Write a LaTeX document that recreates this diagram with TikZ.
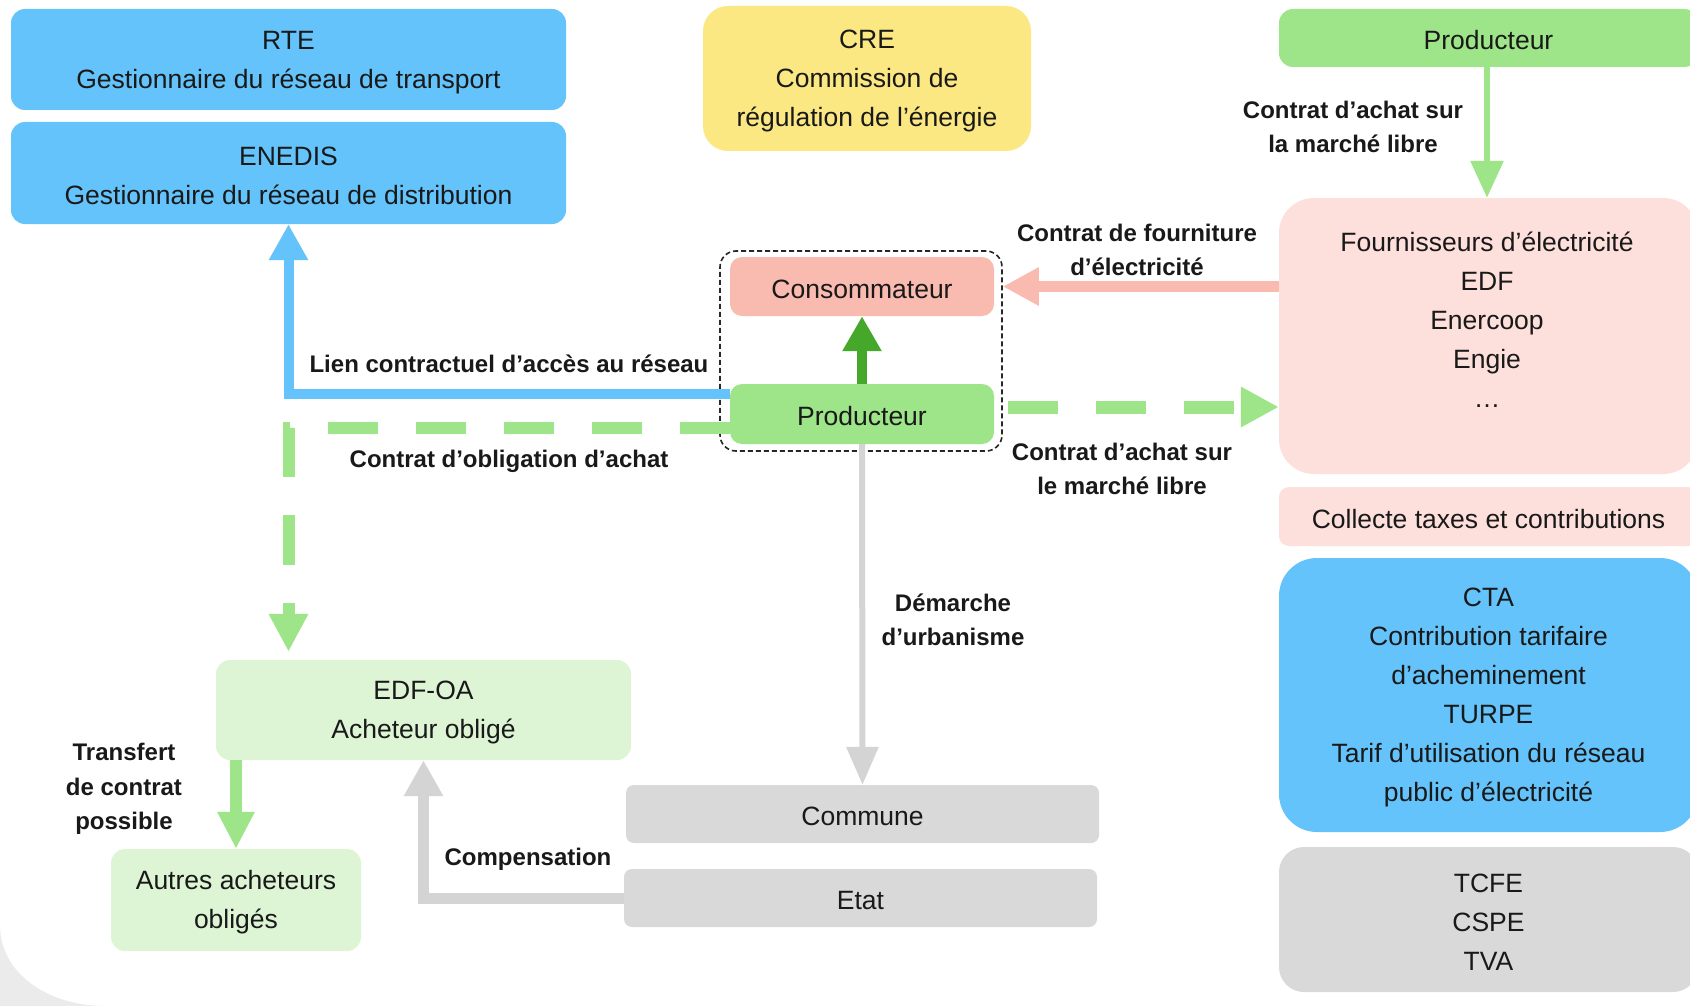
\documentclass[tikz,border=0pt]{standalone}
\usepackage{fontspec}
\setmainfont{Liberation Sans}
\usetikzlibrary{arrows.meta}
\definecolor{bluebox}{HTML}{63C3FA}
\definecolor{yellowbox}{HTML}{FCE883}
\definecolor{greenbox}{HTML}{9DE588}
\definecolor{pinkbox}{HTML}{F9BAB0}
\definecolor{lightpink}{HTML}{FDDFDB}
\definecolor{lightgreen}{HTML}{DDF5D5}
\definecolor{greybox}{HTML}{D9D9D9}
\definecolor{darkgreen}{HTML}{46A82A}
\definecolor{arrowgrey}{HTML}{D4D4D4}
\definecolor{cornergrey}{HTML}{EBEBEB}
\newcommand\topstrut{\rule{0pt}{0.905em}}
\begin{document}
\begin{tikzpicture}[x=1pt,y=-1pt,
  box/.style={rectangle, rounded corners=#1, inner sep=0pt, align=center,
    font=\fontsize{26.5}{39}\selectfont, text=black!90},
  box/.default=14pt,
  lab/.style={align=center, inner sep=0pt, text=black!90,
    font=\bfseries\fontsize{24}{34.5}\selectfont},
  dashgreen/.style={draw=greenbox, dash pattern=on 50pt off 38pt},
]
\useasboundingbox (0,0) rectangle (1690,1006);
\clip (0,0) rectangle (1690,1006);
\fill[white] (0,0) rectangle (1690,1006);
\fill[cornergrey] (0,925) .. controls (0,975) and (50,1006) .. (105,1006) -- (0,1006) -- cycle;

% boxes
\node[box, fill=bluebox, minimum width=555pt, minimum height=101pt] (rte) at (288.5,59.5)
  {\topstrut RTE\\Gestionnaire du réseau de transport};
\node[box, fill=bluebox, minimum width=555pt, minimum height=102pt] (enedis) at (288.5,173)
  {\topstrut ENEDIS\\Gestionnaire du réseau de distribution};
\node[box=25pt, fill=yellowbox, minimum width=328pt, minimum height=145pt] (cre) at (867,78.5)
  {\topstrut CRE\\Commission de\\régulation de l’énergie};
\node[box, fill=greenbox, minimum width=419pt, minimum height=58pt] (prodtop) at (1488.5,38)
  {\topstrut Producteur};
\node[box=35pt, fill=lightpink, minimum width=419pt, minimum height=276pt] (fourn) at (1488.5,336) {};
\node[box] (fourntxt) at (1487,320)
  {Fournisseurs d’électricité\\EDF\\Enercoop\\Engie\\…};
\node[box=10pt, fill=lightpink, minimum width=419pt, minimum height=59pt] (collecte) at (1488.5,516.5)
  {\topstrut Collecte taxes et contributions};
\node[box=38pt, fill=bluebox, minimum width=419pt, minimum height=274pt] (cta) at (1488.5,695)
  {\topstrut CTA\\Contribution tarifaire\\d’acheminement\\TURPE\\Tarif d’utilisation du réseau\\public d’électricité};
\node[box=25pt, fill=greybox, minimum width=419pt, minimum height=145pt] (tcfe) at (1488.5,919.5)
  {\topstrut TCFE\\CSPE\\TVA};
\node[box=12pt, fill=pinkbox, minimum width=264pt, minimum height=59pt] (cons) at (862,286.5)
  {\topstrut Consommateur};
\node[box=12pt, fill=greenbox, minimum width=264pt, minimum height=60pt] (prodc) at (862,414)
  {\topstrut Producteur};
\node[draw=black!85, line width=1.6pt, dash pattern=on 5pt off 3pt,
  rounded corners=16pt, minimum width=282pt, minimum height=200pt, inner sep=0pt] (group) at (861,351) {};
\node[box, fill=lightgreen, minimum width=415pt, minimum height=100pt] (edfoa) at (423.5,710)
  {\topstrut EDF-OA\\Acheteur obligé};
\node[box, fill=lightgreen, minimum width=250pt, minimum height=102pt] (autres) at (236,900)
  {\topstrut Autres acheteurs\\obligés};
\node[box=8pt, fill=greybox, minimum width=473pt, minimum height=58pt] (commune) at (862.5,814)
  {\topstrut Commune};
\node[box=8pt, fill=greybox, minimum width=473pt, minimum height=58pt] (etat) at (860.5,898)
  {\topstrut Etat};

% connectors
\coordinate (bl) at ([yshift=20pt]prodc.west);
\draw[bluebox, line width=10pt, -{Triangle[length=36pt,width=37pt]}]
  (bl) -| (enedis.south);
\coordinate (gl) at ([yshift=-14pt]prodc.west);
\draw[dashgreen, line width=12pt, shorten >=8pt, -{Triangle[length=38pt,width=37pt]}]
  (gl) -| (edfoa.north -| enedis.south);
\draw[darkgreen, line width=10pt, -{Triangle[length=35pt,width=37pt]}]
  (prodc.north) -- (cons.south);
\draw[pinkbox, line width=11pt, -{Triangle[length=36pt,width=36pt]}]
  (fourn.west |- cons.east) -- (cons.east -| group.east);
\coordinate (gr) at ([yshift=7pt]prodc.east);
\draw[dashgreen, line width=13pt, shorten <=14pt, -{Triangle[length=38pt,width=38pt]}]
  (gr) -- (gr -| fourn.west);
\draw[greenbox, line width=6pt, -{Triangle[length=37pt,width=32pt]}]
  (prodtop.south -| fourntxt.center) -- (fourn.north -| fourntxt.center);
\draw[arrowgrey, line width=6pt, -{Triangle[length=38pt,width=31pt]}]
  (prodc.south) -- (commune.north);
\draw[arrowgrey, line width=11pt, -{Triangle[length=36pt,width=37pt]}]
  (etat.west) -| (edfoa.south);
\draw[greenbox, line width=12pt, -{Triangle[length=37pt,width=35pt]}]
  (autres.north |- edfoa.south) -- (autres.north);

% labels
\node[lab] (l1) at (509,364) {Lien contractuel d’accès au réseau};
\node[lab] (l2) at (509,461) {Contrat d’obligation d’achat};
\node[lab] (l3) at (1137,250) {Contrat de fourniture\\d’électricité};
\node[lab] (l4) at (1122,469) {Contrat d’achat sur\\le marché libre};
\node[lab] (l5) at (1353,127) {Contrat d’achat sur\\la marché libre};
\node[lab] (l6) at (953,620) {Démarche\\d’urbanisme};
\node[lab] (l7) at (124,789) {Transfert\\de contrat\\possible};
\node[lab] (l8) at (528,859) {Compensation};
\end{tikzpicture}
\end{document}
